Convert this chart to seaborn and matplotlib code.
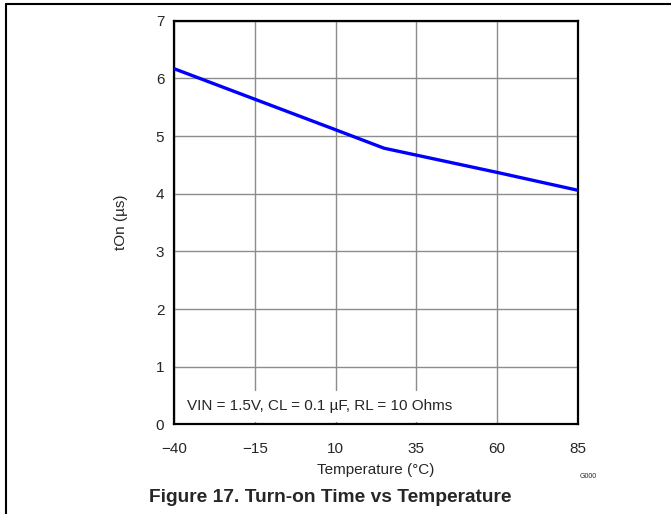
import matplotlib
matplotlib.use("Agg")
import matplotlib.pyplot as plt
from matplotlib.lines import Line2D
import seaborn as sns
import pandas as pd

# Valores
temperature = [-40, -15, 10, 25, 35, 60, 85]
t_on = [6.17, 5.64, 5.11, 4.79, 4.67, 4.37, 4.06]
x_ticks = [-40, -15, 10, 35, 60, 85]
y_ticks = [0, 1, 2, 3, 4, 5, 6, 7]

sns.set_style("white")
plt.rcParams['font.family'] = ['Liberation Sans', 'DejaVu Sans']

df = pd.DataFrame({'Temperature': temperature, 'tOn': t_on})

fig = plt.figure(figsize=(6.71, 5.14), dpi=100)
ax = fig.add_axes([0.2593, 0.1745, 0.602, 0.785])

sns.lineplot(data=df, x='Temperature', y='tOn', ax=ax, color='#0000ff', linewidth=2.4, zorder=3)

ax.set_xlim(-40, 85)
ax.set_ylim(0, 7)
ax.set_xticks(x_ticks)
ax.set_yticks(y_ticks)
ax.grid(True, color='#8c8c8c', linewidth=1.0)
ax.set_axisbelow(True)
for s in ax.spines.values():
    s.set_color('black')
    s.set_linewidth(1.6)
    s.set_visible(True)
ax.tick_params(axis='both', length=0, labelsize=11)
ax.tick_params(axis='x', pad=13)
ax.tick_params(axis='y', pad=7)
ax.set_xlabel('Temperature (°C)', fontsize=11, labelpad=5)
ax.set_ylabel('tOn (µs)', fontsize=11, labelpad=20)

ax.text(0.033, 0.045, 'VIN = 1.5V, CL = 0.1 µF, RL = 10 Ohms', transform=ax.transAxes,
        fontsize=11, ha='left', va='center', zorder=2,
        bbox=dict(facecolor='white', edgecolor='none', pad=6))

fig.text(0.876, 0.072, 'G000', fontsize=5, ha='center', va='center')
fig.text(0.492, 0.033, 'Figure 17. Turn-on Time vs Temperature', fontsize=13.8,
         fontweight='bold', ha='center', va='center')

# moldura externa
fig.add_artist(Line2D([0.009, 1.0], [0.992, 0.992], transform=fig.transFigure, color='black', linewidth=1.5))
fig.add_artist(Line2D([0.009, 0.009], [0.0, 0.992], transform=fig.transFigure, color='black', linewidth=1.5))

fig.savefig('out.png', dpi=100)
